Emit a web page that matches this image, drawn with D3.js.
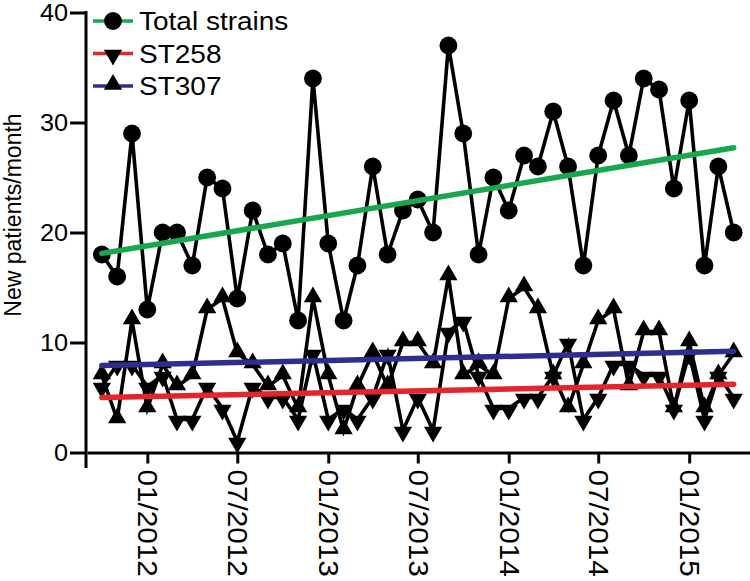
<!DOCTYPE html>
<html><head><meta charset="utf-8">
<script src="https://cdn.jsdelivr.net/npm/d3@7"></script>
<style>
body{margin:0;background:#fff}
svg{display:block}
text{font-family:"Liberation Sans",Arial,Helvetica,sans-serif;fill:#000}
</style>
</head><body>
<svg id="c" width="750" height="581"></svg>
<script>
// ---- data ----
const months = ["2011-10","2011-11","2011-12","2012-01","2012-02","2012-03","2012-04","2012-05","2012-06","2012-07",
  "2012-08","2012-09","2012-10","2012-11","2012-12","2013-01","2013-02","2013-03","2013-04","2013-05",
  "2013-06","2013-07","2013-08","2013-09","2013-10","2013-11","2013-12","2014-01","2014-02","2014-03",
  "2014-04","2014-05","2014-06","2014-07","2014-08","2014-09","2014-10","2014-11","2014-12","2015-01",
  "2015-02","2015-03","2015-04"];
const totalStrains = [18,16,29,13,20,20,17,25,24,14,22,18,19,12,34,19,12,17,26,18,22,23,20,37,29,18,25,22,27,26,31,26,17,27,32,27,34,33,24,32,17,26,20];
const st258 = [6,8,8,6,7,3,3,6,4,1,6,5,5,3,9,3,4,3,5,9,2,5,2,11,12,7,4,4,5,5,7,10,3,5,8,8,7,7,4,9,3,7,5];
const st307 = [7,3,12,4,8,6,7,13,14,9,8,6,7,4,14,7,2,6,9,6,10,10,8,16,7,8,7,14,15,13,7,4,8,12,13,6,11,11,4,10,4,7,9];
const trendTotal = [18.1, 27.7];
const trendST258 = [5.0, 6.2];
const trendST307 = [7.9, 9.2];
const yTicks = [0, 10, 20, 30, 40];
const xTickMonths = ["2012-01","2012-07","2013-01","2013-07","2014-01","2014-07","2015-01"];
const xTickLabels = ["01/2012","07/2012","01/2013","07/2013","01/2014","07/2014","01/2015"];
const seriesNames = ["Total strains","ST258","ST307"];
const yTitle = "New patients/month";

// ---- setup ----
const parse = d3.timeParse("%Y-%m");
const dates = months.map(parse);
const svg = d3.select("#c");

const x = d3.scaleTime()
  .domain([new Date(2011, 8, 1), new Date(2015, 4, 4)])
  .range([87, 750]);
const y = d3.scaleLinear().domain([0, 40]).range([452.5, 12.5]);

const colors = {total: "#17a84f", st258: "#e3262b", st307: "#2d2f8f"};

// ---- axes ----
const yAxis = d3.axisLeft(y).tickValues(yTicks).tickSize(16).tickPadding(0);
const gy = svg.append("g").attr("transform", "translate(86,0)").call(yAxis);
gy.select(".domain").remove();
gy.append("line").attr("x1", 0).attr("x2", 0).attr("y1", 11).attr("y2", 468)
  .attr("stroke", "#000").attr("stroke-width", 3);
gy.selectAll(".tick line").attr("stroke", "#000").attr("stroke-width", 3);
gy.selectAll(".tick text")
  .attr("font-size", 23).attr("fill", "#000")
  .attr("x", 0).attr("dy", "0.36em")
  .attr("transform", "translate(-18,0) scale(1.1,1)");

const xAxis = d3.axisBottom(x).tickValues(xTickMonths.map(parse))
  .tickFormat((d, i) => xTickLabels[i]).tickSize(11).tickSizeOuter(0);
const gx = svg.append("g").attr("transform", "translate(0,452.5)").call(xAxis);
gx.select(".domain").attr("stroke", "#000").attr("stroke-width", 3);
gx.selectAll(".tick line").attr("stroke", "#000").attr("stroke-width", 3);
gx.selectAll(".tick text")
  .attr("font-size", 27).attr("fill", "#000")
  .attr("text-anchor", "start")
  .attr("transform", "translate(0,17) rotate(90) scale(1.1,1)")
  .attr("x", 0).attr("y", 0).attr("dy", "0.36em");

svg.append("text")
  .attr("transform", "translate(21,215) rotate(-90)")
  .attr("text-anchor", "middle")
  .attr("font-size", 23)
  .text(yTitle);

// ---- series ----
const line = d3.line().x((d, i) => x(dates[i])).y(d => y(d));
const circleSym = d3.symbol().type(d3.symbolCircle).size(250);
const triSym = d3.symbol().type(d3.symbolTriangle).size(145);

function markerTransform(cx, cy, kind) {
  const off = kind === "down" ? 1.5 : kind === "up" ? -1.5 : 0;
  return `translate(${cx},${cy + off})` + (kind === "down" ? " rotate(180)" : "");
}

function drawSeries(values, kind) {
  const g = svg.append("g");
  g.append("path").datum(values).attr("d", line)
    .attr("fill", "none").attr("stroke", "#000").attr("stroke-width", 3.6)
    .attr("stroke-linejoin", "miter");
  g.selectAll("path.m").data(values).join("path").attr("class", "m")
    .attr("d", kind === "circle" ? circleSym() : triSym())
    .attr("transform", (d, i) => markerTransform(x(dates[i]), y(d), kind))
    .attr("fill", "#000");
}
drawSeries(totalStrains, "circle");
drawSeries(st258, "down");
drawSeries(st307, "up");

// ---- trend lines ----
function drawTrend(vals, color) {
  svg.append("line")
    .attr("x1", x(dates[0])).attr("x2", x(dates[dates.length - 1]))
    .attr("y1", y(vals[0])).attr("y2", y(vals[1]))
    .attr("stroke", color).attr("stroke-width", 5.5).attr("stroke-linecap", "round");
}
drawTrend(trendST258, colors.st258);
drawTrend(trendST307, colors.st307);
drawTrend(trendTotal, colors.total);

// ---- legend ----
const legendColors = [colors.total, colors.st258, colors.st307];
const legendKinds = ["circle", "down", "up"];
const lg = svg.append("g");
seriesNames.forEach((name, i) => {
  const cy = 21 + i * 32.5;
  lg.append("line").attr("x1", 93).attr("x2", 133).attr("y1", cy).attr("y2", cy)
    .attr("stroke", legendColors[i]).attr("stroke-width", 3.5);
  const k = legendKinds[i];
  lg.append("path")
    .attr("d", k === "circle" ? circleSym() : triSym())
    .attr("transform", markerTransform(113, cy, k))
    .attr("fill", "#000");
  lg.append("text")
    .attr("transform", `translate(139,${cy}) scale(1.12,1)`)
    .attr("dy", "0.36em")
    .attr("font-size", 25).text(name);
});
</script>
</body></html>
